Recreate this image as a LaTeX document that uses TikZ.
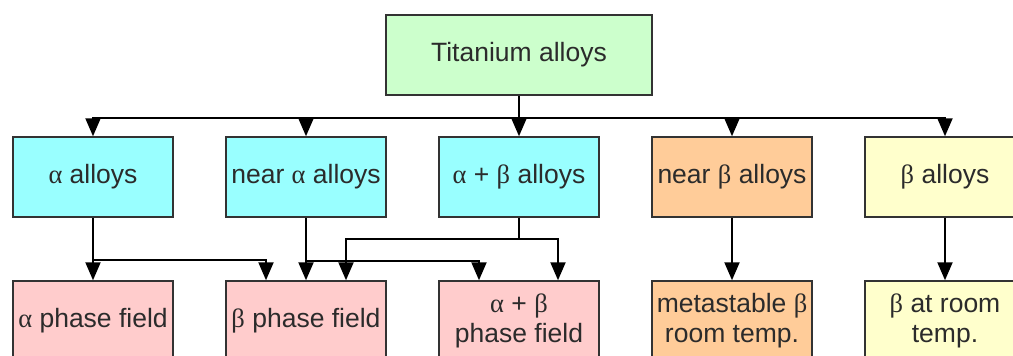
\documentclass[tikz,border=0pt]{standalone}
\usepackage{fontspec}
\setmainfont{Liberation Sans}
\newfontfamily\grk{Liberation Serif}
\usetikzlibrary{arrows.meta}
\newcommand{\al}{{\grk α}}
\newcommand{\be}{{\grk β}}
\definecolor{bordc}{HTML}{333333}
\definecolor{txtc}{HTML}{2B2B2B}
\definecolor{cgreen}{HTML}{CCFFCC}
\definecolor{ccyan}{HTML}{99FFFF}
\definecolor{cpink}{HTML}{FFCCCC}
\definecolor{cpeach}{HTML}{FFCC99}
\definecolor{cyell}{HTML}{FFFFCC}
\tikzset{
  box/.style={draw=bordc, line width=1.5pt, minimum width=160pt, minimum height=80pt,
    inner sep=0pt, align=center, text=txtc, font=\fontsize{26.5}{30}\selectfont},
  conn/.style={line width=2.1pt, black},
  arr/.style={conn, -{Triangle[width=15pt,length=18pt]}}
}
\begin{document}
\begin{tikzpicture}[x=1pt,y=-1pt]
\useasboundingbox (0,0) rectangle (1013,356);
% top
\node[box, fill=cgreen, minimum width=266pt] (ti) at (519,55) {Titanium alloys};
% row 2
\node[box, fill=ccyan] (a) at (93,177) {\al\ alloys};
\node[box, fill=ccyan] (na) at (306,177) {near \al\ alloys};
\node[box, fill=ccyan] (ab) at (519,177) {\al\ + \be\ alloys};
\node[box, fill=cpeach] (nb) at (732,177) {near \be\ alloys};
\node[box, fill=cyell] (b) at (945,177) {\be\ alloys};
% row 3
\node[box, fill=cpink] (ap) at (93,321) {\al\ phase field};
\node[box, fill=cpink] (bp) at (306,321) {\be\ phase field};
\node[box, fill=cpink] (abp) at (519,321) {\al\ + \be\\phase field};
\node[box, fill=cpeach] (ms) at (732,321) {metastable \be\\room temp.};
\node[box, fill=cyell] (br) at (945,321) {\be\ at room\\temp.};
% top connectors
\draw[conn] (ti.south) -- ++(0,22) coordinate (tj);
\draw[arr] (tj) -| (a.north);
\draw[arr] (tj) -| (na.north);
\draw[arr] (tj) -- (ab.north);
\draw[arr] (tj) -| (nb.north);
\draw[arr] (tj) -| (b.north);
% alpha alloys
\draw[arr] (a.south) -- (ap.north);
\draw[arr] (a.south) ++(0,42) -| ([xshift=-40pt]bp.north);
% near alpha
\draw[arr] (na.south) -- (bp.north);
\draw[arr] (na.south) ++(0,43) -| ([xshift=-40pt]abp.north);
% alpha+beta
\draw[conn] (ab.south) -- ++(0,21) coordinate (abj);
\draw[arr] (abj) -| ([xshift=40pt]bp.north);
\draw[arr] (abj) -| ([xshift=39pt]abp.north);
% near beta, beta
\draw[arr] (nb.south) -- (ms.north);
\draw[arr] (b.south) -- (br.north);
\end{tikzpicture}
\end{document}
